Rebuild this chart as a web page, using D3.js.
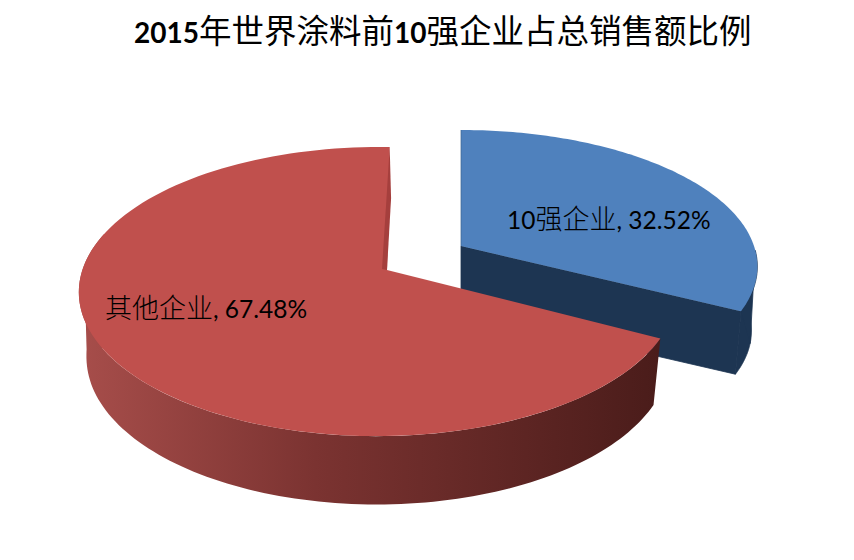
<!DOCTYPE html>
<html><head><meta charset="utf-8">
<script src="https://cdn.jsdelivr.net/npm/d3@7/dist/d3.min.js"></script>
<style>html,body{margin:0;padding:0;background:#fff}svg{display:block}</style>
</head><body><div id="c"></div>
<script>
const chartTitle = "2015年世界涂料前10强企业占总销售额比例";
const categories = ["10强企业", "其他企业"];
const values = [32.52, 67.48];
const topColors = ["#4f81bd", "#c0504d"];
const W = 854, H = 560;
const svg = d3.select("#c").append("svg").attr("width", W).attr("height", H);
const rad = d => d * Math.PI / 180;

const defs = svg.append("defs");
const grad = defs.append("linearGradient").attr("id", "redWall")
  .attr("gradientUnits", "userSpaceOnUse").attr("x1", 85).attr("x2", 660).attr("y1", 0).attr("y2", 0);
[[0, "#a64d4a"], [0.4, "#7b3331"], [1, "#4a1c1a"]].forEach(s =>
  grad.append("stop").attr("offset", s[0]).attr("stop-color", s[1]));

const arcs = d3.pie().sort(null)(values);
const geom = [
  {cx: 461, cy: 246, R: 293, A: 133.4, B: 0.15, C: 0, kx: 0.98, ky: 0.97, d: 65, rot: 0, wall: "#1d3552"},
  {cx: 387, cy: 270, R: 295.5, A: 141.3, B: 0.149, C: 0.03, kx: 0.975, ky: 1.02, d: 65, rot: 0.6, wall: "url(#redWall)"}
];
const project = (g, r, a, low) => {
  const u = r * Math.sin(a), v = -r * Math.cos(a), q = 1 - g.B * v + g.C * u;
  return [g.cx + (low ? g.kx : 1) * g.R * u / q, g.cy + (low ? g.d : 0) + (low ? g.ky : 1) * g.A * v / q];
};
const line = d3.line();
const sample = (a0, a1) => d3.range(0, 121).map(i => a0 + (a1 - a0) * i / 120);

const drawSlice = (arc, g, color) => {
  const a0 = arc.startAngle + rad(g.rot), a1 = arc.endAngle + rad(g.rot);
  if (arc.index === 0) {
    const as = sample(rad(92), a1);
    const up = as.map(a => project(g, 1, a));
    const lo = as.map(a => project(g, 1, a, true));
    const w = svg.append("g").attr("fill", g.wall).attr("stroke", g.wall).attr("stroke-width", 0.8).attr("stroke-linejoin", "round");
    w.append("path").attr("d", line([project(g, 0, a1), project(g, 1, a1), project(g, 1, a1, true), project(g, 0, a1, true)]) + "Z");
    w.append("path").attr("d", line(up.concat(lo.slice().reverse())) + "Z");
    w.append("path").attr("d", line([project(g, 1, rad(92)), project(g, 1, rad(104), true), project(g, 1, a1)]) + "Z");
  } else {
    const as = sample(a0, rad(285));
    const wall = as.map(a => project(g, 1, a)).concat(as.slice().reverse().map(a => project(g, 1, a, true)));
    svg.append("path").attr("d", line(wall) + "Z").attr("fill", g.wall);
    svg.append("path").attr("d", line([project(g, 1, rad(272)), project(g, 1, rad(258), true), project(g, 1, rad(240))]) + "Z")
      .attr("fill", g.wall);
  }
  const top = [project(g, 0, a0)].concat(sample(a0, a1).map(a => project(g, 1, a)));
  svg.append("path").attr("d", line(top) + "Z").attr("fill", color);
  const o = project(g, 0, a1), e = project(g, 1, a1);
  if (arc.index === 1) {
    const m = project(g, 0.55, a1);
    svg.append("path").attr("d", line([e, [m[0] + 2.5, m[1]], o, [o[0] - 5, o[1] - 1]]) + "Z").attr("fill", "#a53f3d");
  } else {
    const s0 = project(g, 0, a0), s1 = project(g, 1, a0);
    svg.append("path").attr("d", line([s0, s1])).attr("stroke", "#3d6591").attr("stroke-width", 0.7).attr("fill", "none");
  }
};
arcs.forEach((arc, i) => drawSlice(arc, geom[i], topColors[i]));

// mixed-script text: CJK and Latin runs sized separately
const CJK = "'Noto Sans CJK SC'";
const addText = (x, y, str, cjkSize, latSize, latWeight, cjkWeight) => {
  const t = svg.append("text").attr("x", x).attr("y", y).attr("fill", "#000");
  str.match(/[\u4e00-\u9fff]+|[^\u4e00-\u9fff]+/g).forEach(run => {
    const isC = /[\u4e00-\u9fff]/.test(run);
    t.append("tspan").text(run).style("white-space", "pre")
      .attr("font-family", isC ? CJK : "Lato")
      .attr("font-size", isC ? cjkSize : latSize)
      .attr("font-weight", isC ? cjkWeight : latWeight);
  });
};
addText(134, 43, chartTitle, 32.5, 28, 700, 400);
const fmt = i => `${categories[i]}, ${values[i].toFixed(2)}%`;
addText(507, 229, fmt(0), 27, 24.5, 400, 300);
addText(105, 318, fmt(1), 27, 24.5, 400, 300);
</script></body></html>
